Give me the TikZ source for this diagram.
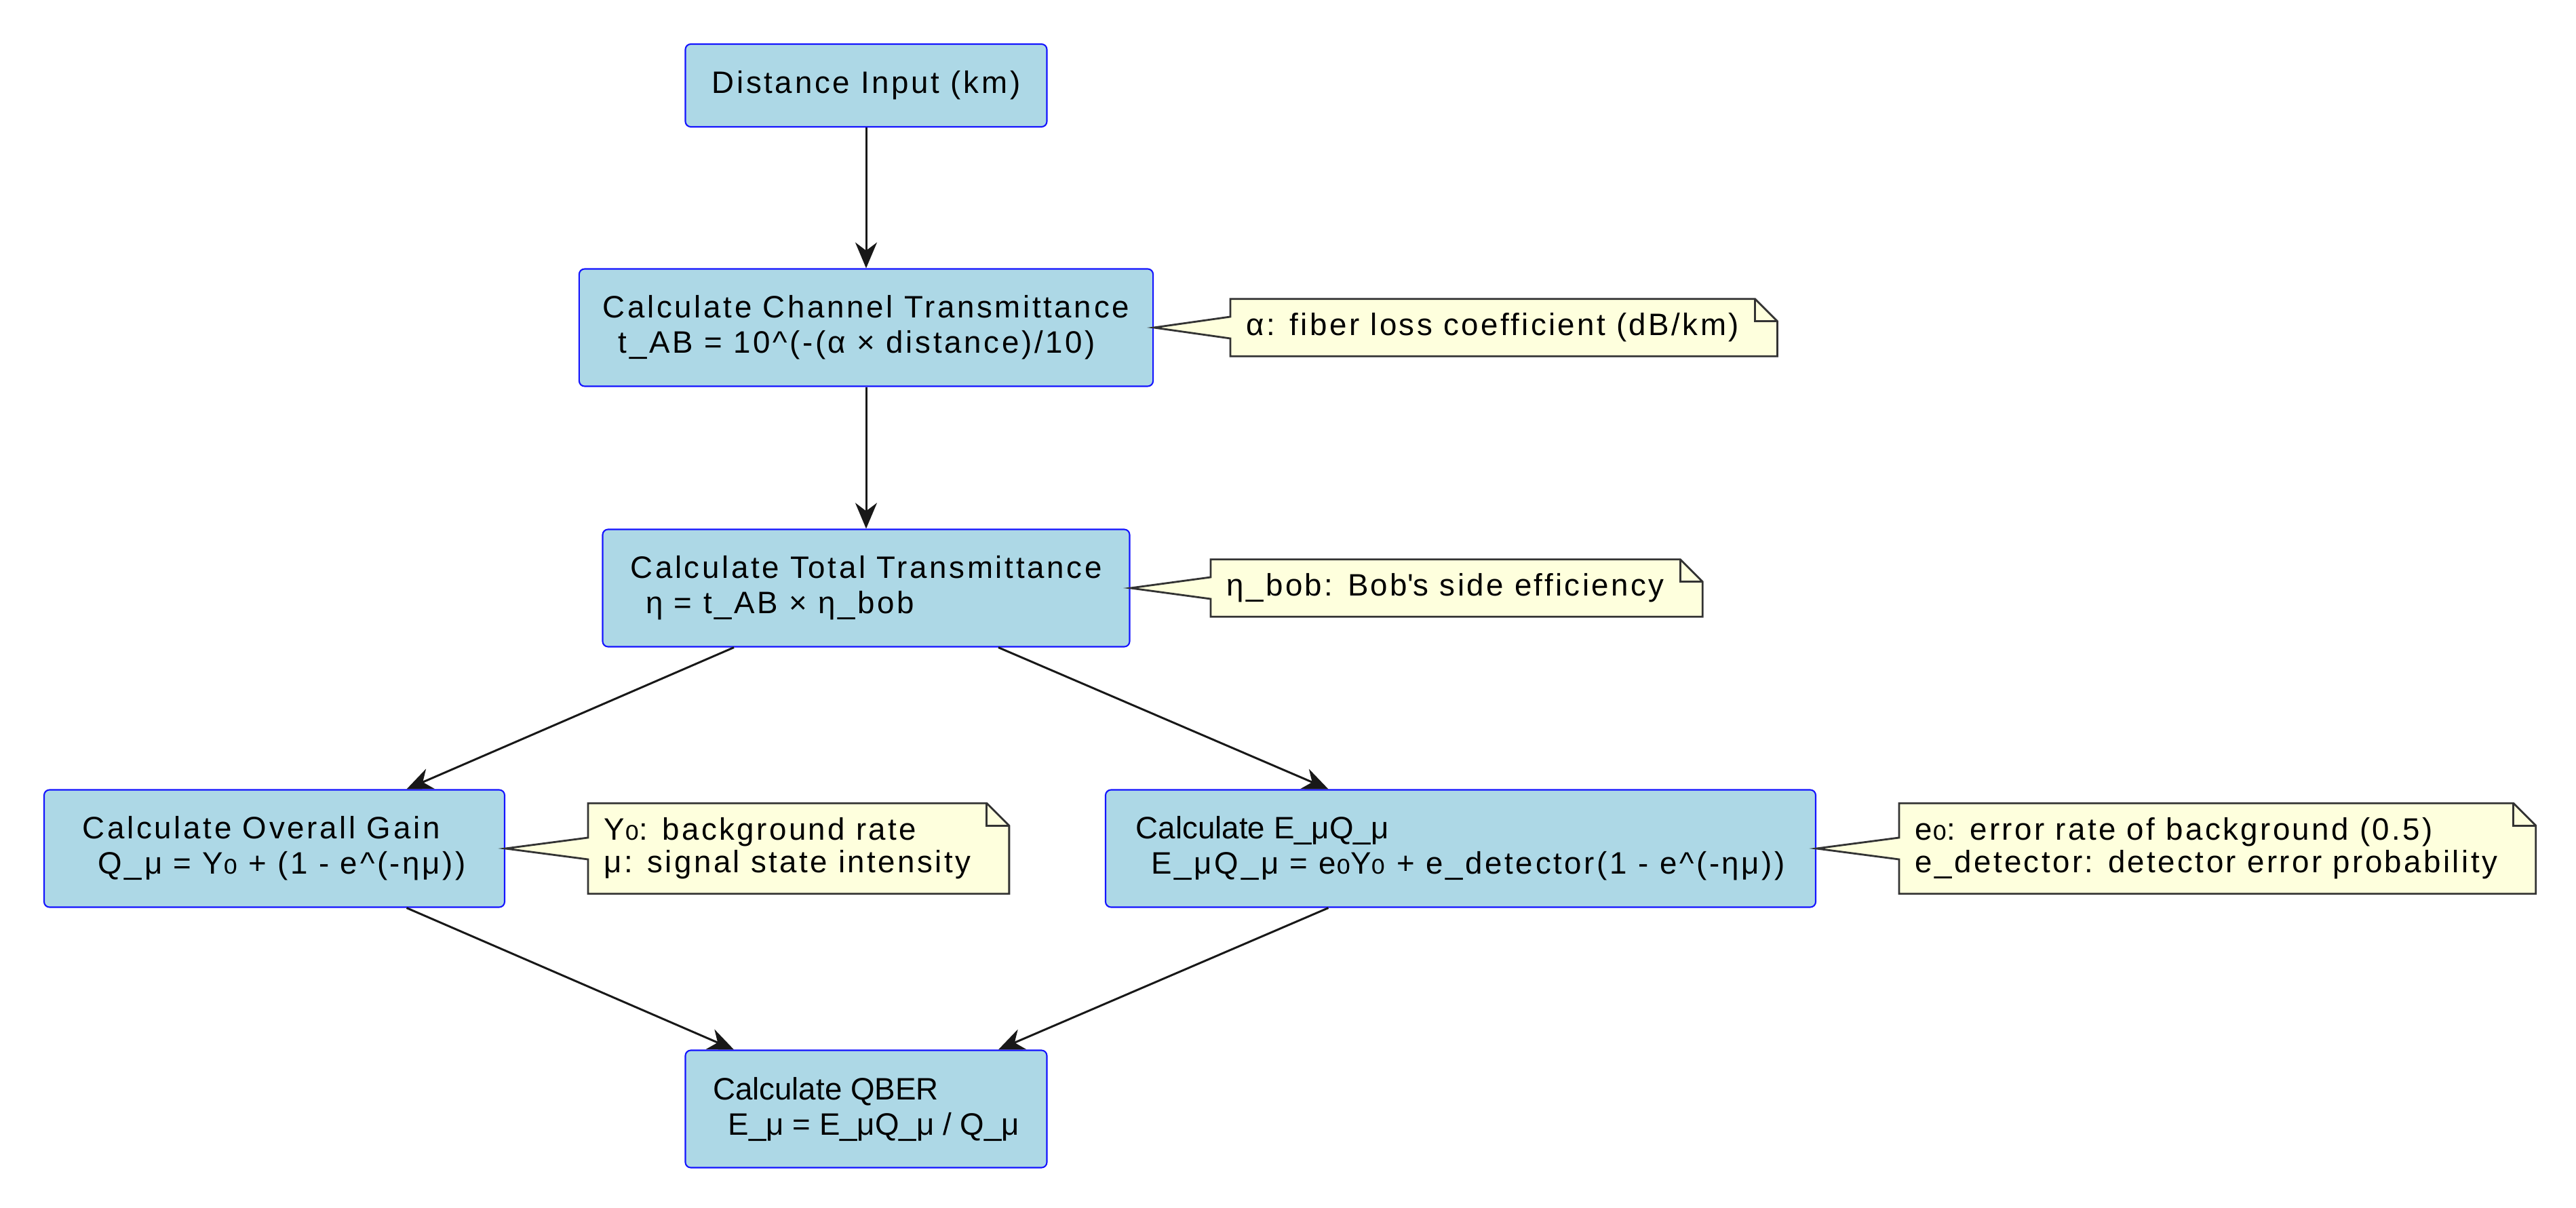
\documentclass[tikz,border=0pt]{standalone}
\usepackage{fontspec}
\setmainfont{Liberation Sans}
\newfontfamily\trackfont{Liberation Sans}[LetterSpace=8]
\newfontfamily\notefont{Liberation Sans}[LetterSpace=7.5]
\newfontfamily\plainfont{Liberation Sans}
\newfontfamily\dejavu{DejaVu Sans}
\usetikzlibrary{arrows.meta, calc}

\definecolor{boxfill}{HTML}{ADD8E6}
\definecolor{boxline}{HTML}{1414FF}
\definecolor{notefill}{HTML}{FEFFDD}
\definecolor{noteline}{HTML}{333333}
\definecolor{arrowcol}{HTML}{181818}

\newcommand{\zsub}{{\dejavu\fontsize{15pt}{15pt}\selectfont ₀}}
\newcommand{\fold}{0.33cm}
\newcommand{\notegap}{0.33cm}
\newcommand{\wedgehalf}{0.16cm}

% note outline: folded corner on the right, wedge on the left to the box
\newcommand{\drawnote}[2]{%
  \draw[noteedge] (#1.north west) -- ([xshift=\notegap-\fold]#1.north east)
    -- ([xshift=\notegap,yshift=-\fold]#1.north east) -- ([xshift=\notegap]#1.south east)
    -- (#1.south west) -- ([yshift=-\wedgehalf]#1.west) -- (#2.east)
    -- ([yshift=\wedgehalf]#1.west) -- cycle;
  \draw[noteedge, fill=none] ([xshift=\notegap-\fold]#1.north east)
    |- ([xshift=\notegap,yshift=-\fold]#1.north east);
  \node[note] at (#1) {\csname notetext#1\endcsname};
}

\begin{document}
\begin{tikzpicture}[
    box/.style={draw=boxline, fill=boxfill, rounded corners=0.08cm, line width=0.6pt,
      align=left, inner xsep=0.35cm, minimum height=1.73cm,
      font={\trackfont\fontsize{13pt}{14.8pt}\selectfont}},
    note/.style={align=left, inner xsep=0.23cm, inner ysep=0pt,
      font={\notefont\fontsize{13pt}{13.7pt}\selectfont}},
    noteedge/.style={draw=noteline, fill=notefill, line width=0.8pt, line join=miter},
    arr/.style={draw=arrowcol, line width=0.85pt,
      -{Stealth[length=0.38cm, width=0.32cm, inset=0.12cm]}}
]
\useasboundingbox (0,0) rectangle (37.98,17.80);

% --- Main column ---
\node[box, minimum width=5.33cm, minimum height=1.22cm] (dist) at (12.77,16.54) {Distance Input (km)};
\node[box, minimum width=8.26cm] (chan) at (12.77,12.97)
  {Calculate Channel Transmittance\\\hspace*{0.5em}t\_AB = 10\textasciicircum(-(α × distance)/10)};
\node[box, minimum width=7.77cm] (total) at (12.77,9.13)
  {Calculate Total Transmittance\\\hspace*{0.5em}η = t\_AB × η\_bob};

% --- Two branches ---
\node[box, minimum width=6.79cm] (gain) at (4.045,5.29)
  {Calculate Overall Gain\\\hspace*{0.5em}Q\_μ = Y\zsub{} + (1 - e\textasciicircum(-ημ))};
\node[box, minimum width=10.47cm] (err) at (21.535,5.29)
  {{\plainfont Calculate E\_μQ\_μ}\\\hspace*{0.5em}E\_μQ\_μ = e\zsub{}Y\zsub{} + e\_detector(1 - e\textasciicircum(-ημ))};

% --- Result ---
\node[box, minimum width=5.33cm, font={\plainfont\fontsize{13pt}{14.8pt}\selectfont}] (qber) at (12.77,1.45)
  {Calculate QBER\\\hspace*{0.5em}E\_μ = E\_μQ\_μ / Q\_μ};

% --- Arrows ---
\draw[arr] (dist) -- (chan);
\draw[arr] (chan) -- (total);
\draw[arr] ([xshift=-1.95cm]total.south) -- ([xshift=1.95cm]gain.north);
\draw[arr] ([xshift=1.95cm]total.south) -- ([xshift=-1.95cm]err.north);
\draw[arr] ([xshift=1.95cm]gain.south) -- ([xshift=-1.95cm]qber.north);
\draw[arr] ([xshift=-1.95cm]err.south) -- ([xshift=1.95cm]qber.north);

% --- Notes ---
\node[note, minimum height=0.83cm, anchor=west] (nalpha) at (18.14,12.97)
  {\phantom{α: fiber loss coefficient (dB/km)}};
\node[note, minimum height=0.83cm, anchor=west] (nbob) at (17.85,9.13)
  {\phantom{η\_bob: Bob\textquotesingle s side efficiency}};
\node[note, minimum height=1.32cm, anchor=west] (nyzero) at (8.67,5.29)
  {\phantom{μ: signal state intensity}};
\node[note, minimum height=1.32cm, anchor=west] (nezero) at (28.00,5.29)
  {\phantom{e\_detector: detector error probability}};

\expandafter\def\csname notetextnalpha\endcsname{α: fiber loss coefficient (dB/km)}
\expandafter\def\csname notetextnbob\endcsname{η\_bob: Bob\textquotesingle s side efficiency}
\expandafter\def\csname notetextnyzero\endcsname{Y\zsub: background rate\\μ: signal state intensity}
\expandafter\def\csname notetextnezero\endcsname{e\zsub: error rate of background (0.5)\\e\_detector: detector error probability}

\drawnote{nalpha}{chan}
\drawnote{nbob}{total}
\drawnote{nyzero}{gain}
\drawnote{nezero}{err}

\end{tikzpicture}
\end{document}
